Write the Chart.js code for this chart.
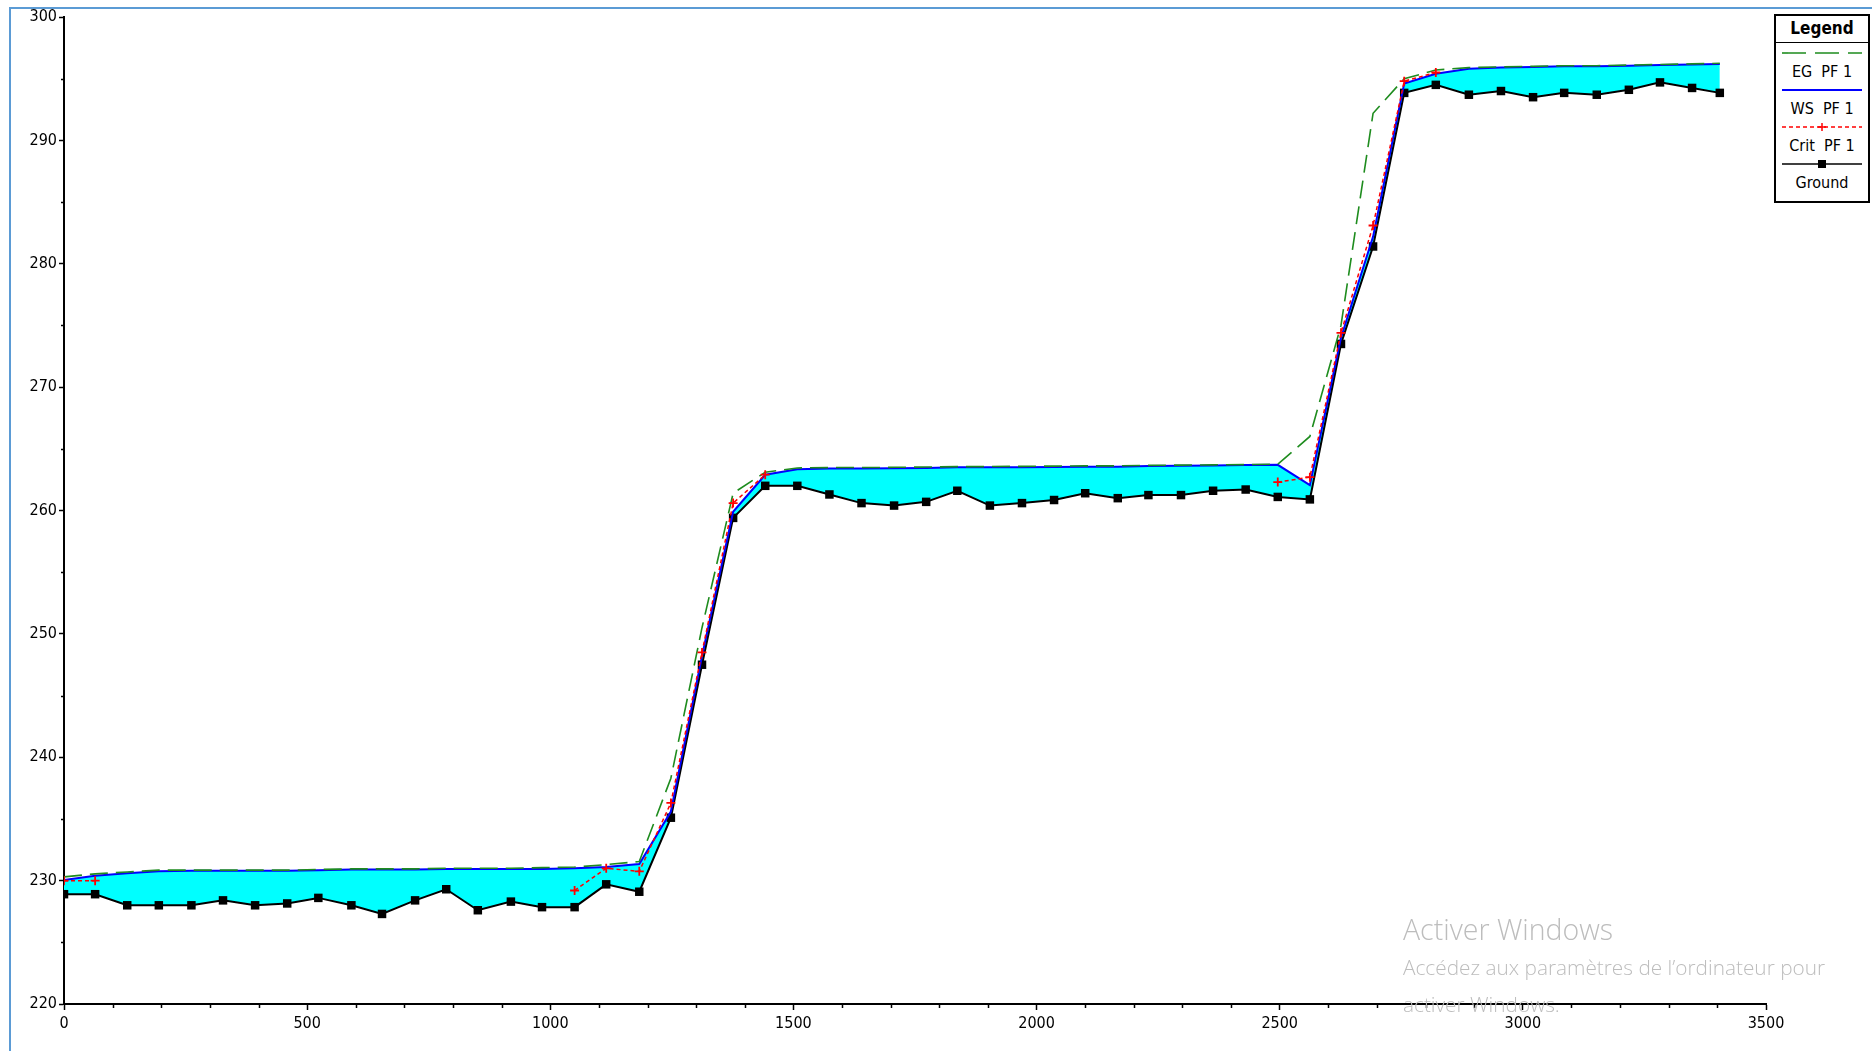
<!DOCTYPE html>
<html>
<head>
<meta charset="utf-8">
<title>Profile</title>
<script src="https://cdn.jsdelivr.net/npm/chart.js@4.4.1/dist/chart.umd.min.js"></script>
<style>
    body { margin: 0; background: #fff; overflow: hidden; }
    #wrap { position: relative; width: 1872px; height: 1051px; }
    #frame { position: absolute; left: 9px; top: 7px; right: 0; bottom: 0;
             border-left: 2px solid #5b9bd5; border-top: 2px solid #5b9bd5; pointer-events: none; }
    #legend { position: absolute; left: 1774px; top: 14px; width: 96px; height: 189px;
              box-sizing: border-box; border: 2px solid #000; background: #fff;
              font-family: "Liberation Sans Narrow", "DejaVu Sans Condensed", "Liberation Sans", sans-serif;
              font-size: 16px; color: #000; text-align: center; }
    #legend .title { font-weight: bold; font-size: 17px; height: 26px; line-height: 24px; border-bottom: 1.5px solid #000; }
    #legend svg { display: block; margin: 3px auto 0 auto; }
    #legend svg + .lbl { margin-top: 0; }
    #legend .lbl { height: 23px; line-height: 23px; }
    #legend .lbl + svg { margin-top: 0; }
    #watermark { position: absolute; left: 1403px; top: 909px; color: #bdbdbd;
                 font-family: "Open Sans", "Noto Sans", sans-serif; font-weight: 300; }
    #watermark .big { font-size: 28.5px; line-height: 40px; }
    #watermark .small { font-size: 20.8px; line-height: 37px; }
</style>
</head>
<body>
<div id="wrap">
    <canvas id="profileChart" width="1872" height="1051"></canvas>
    <div id="frame"></div>
    <div id="legend">
        <div class="title">Legend</div>
        <svg width="80" height="14"><line x1="0" y1="7" x2="80" y2="7" stroke="#1e8c1e" stroke-width="1.6" stroke-dasharray="24,9"/></svg>
        <div class="lbl">EG&nbsp; PF 1</div>
        <svg width="80" height="14"><line x1="0" y1="7" x2="80" y2="7" stroke="#0000ff" stroke-width="1.8"/></svg>
        <div class="lbl">WS&nbsp; PF 1</div>
        <svg width="80" height="14"><line x1="0" y1="7" x2="80" y2="7" stroke="#ff0000" stroke-width="1.4" stroke-dasharray="4,3"/>
            <line x1="40" y1="3" x2="40" y2="11" stroke="#ff0000" stroke-width="1.5"/><line x1="36" y1="7" x2="44" y2="7" stroke="#ff0000" stroke-width="1.5"/></svg>
        <div class="lbl">Crit&nbsp; PF 1</div>
        <svg width="80" height="14"><line x1="0" y1="7" x2="80" y2="7" stroke="#000" stroke-width="1.6"/><rect x="36" y="3" width="8" height="8" fill="#000"/></svg>
        <div class="lbl">Ground</div>
    </div>
    <div id="watermark">
        <div class="big">Activer Windows</div>
        <div class="small">Accédez aux paramètres de l’ordinateur pour</div>
        <div class="small">activer Windows.</div>
    </div>
</div>
<script>
// Main channel distance (m) of each cross section
const stations = [0, 64, 130, 195, 262, 327, 393, 459, 523, 591, 654, 722, 786, 851, 919, 983, 1050, 1115, 1183,
    1248, 1312, 1376,
    1442, 1508, 1574, 1640, 1707, 1773, 1837, 1904, 1970, 2036, 2100, 2167, 2230, 2297, 2363, 2430, 2496, 2562,
    2626, 2692,
    2756, 2821, 2889, 2955, 3021, 3085, 3152, 3218, 3282, 3348, 3405];

const groundElev = [228.9, 228.9, 228.0, 228.0, 228.0, 228.4, 228.0, 228.15, 228.6, 228.0, 227.3, 228.4, 229.3, 227.6, 228.3, 227.85, 227.85, 229.7, 229.1,
    235.1, 247.5, 259.4,
    262.0, 262.0, 261.3, 260.6, 260.4, 260.7, 261.6, 260.4, 260.6, 260.85, 261.4, 261.0, 261.25, 261.25, 261.6, 261.7, 261.1, 260.9,
    273.5, 281.4,
    293.85, 294.5, 293.7, 294.0, 293.5, 293.85, 293.7, 294.1, 294.7, 294.25, 293.85];

const wsElev = [230.05, 230.4, 230.6, 230.75, 230.8, 230.8, 230.8, 230.8, 230.85, 230.9, 230.9, 230.9, 230.95, 230.95, 230.95, 230.95, 231.0, 231.1, 231.35,
    235.6, 248.2, 259.9,
    262.9, 263.35, 263.4, 263.4, 263.42, 263.45, 263.5, 263.5, 263.5, 263.52, 263.55, 263.55, 263.6, 263.62, 263.65, 263.68, 263.7, 262.05,
    274.0, 282.2,
    294.6, 295.4, 295.8, 295.9, 295.95, 296.0, 296.0, 296.05, 296.1, 296.15, 296.2];

const egElev = [230.3, 230.55, 230.7, 230.85, 230.85, 230.85, 230.85, 230.85, 230.9, 230.95, 230.95, 230.95, 231.0, 231.0, 231.0, 231.05, 231.1, 231.3, 231.55,
    238.3, 250.5, 261.4,
    263.1, 263.45, 263.48, 263.48, 263.5, 263.52, 263.56, 263.56, 263.58, 263.6, 263.62, 263.62, 263.66, 263.68, 263.7, 263.72, 263.75, 266.0,
    275.0, 292.2,
    295.0, 295.7, 295.9, 295.95, 296.0, 296.05, 296.05, 296.1, 296.15, 296.2, 296.25];

// Critical depth only computed at some sections
const critElev = [230.0, 230.0, null, null, null, null, null, null, null, null, null, null, null, null, null, null, 229.2, 231.0, 230.75,
    236.3, 248.5, 260.6,
    262.9, null, null, null, null, null, null, null, null, null, null, null, null, null, null, null, 262.3, 262.7,
    274.4, 283.1,
    294.8, 295.5, null, null, null, null, null, null, null, null, null];

const xRange = [0, 3500];
const yRange = [220, 300];

function toPoints(values) {
    return stations.map((s, i) => ({ x: s, y: values[i] }));
}

// short minor ticks between the labelled ones
const minorTicks = {
    id: "minorTicks",
    afterDraw(chart) {
        const ctx = chart.ctx;
        const xs = chart.scales.x, ys = chart.scales.y;
        const area = chart.chartArea;
        ctx.save();
        ctx.strokeStyle = "#000";
        ctx.lineWidth = 1.5;
        ctx.beginPath();
        for (let v = yRange[0] + 5; v < yRange[1]; v += 10) {
            const py = Math.round(ys.getPixelForValue(v)) + 0.5;
            ctx.moveTo(area.left - 3, py);
            ctx.lineTo(area.left, py);
        }
        for (let v = xRange[0] + 100; v < xRange[1]; v += 100) {
            if (v % 500 === 0) continue;
            const px = Math.round(xs.getPixelForValue(v)) + 0.5;
            ctx.moveTo(px, area.bottom);
            ctx.lineTo(px, area.bottom + 4);
        }
        ctx.stroke();
        ctx.restore();
    }
};

document.addEventListener("DOMContentLoaded", function () {
    const tickFont = { family: "'Liberation Sans Narrow', 'DejaVu Sans Condensed', 'Liberation Sans', sans-serif", size: 16 };
    const ctx = document.getElementById("profileChart").getContext("2d");
    new Chart(ctx, {
        type: "line",
        data: {
            datasets: [
                {
                    label: "EG  PF 1",
                    data: toPoints(egElev),
                    borderColor: "#1e8c1e",
                    borderWidth: 1.6,
                    borderDash: [18, 8],
                    pointRadius: 0,
                    fill: false,
                    order: 1
                },
                {
                    label: "WS  PF 1",
                    data: toPoints(wsElev),
                    borderColor: "#0000ff",
                    borderWidth: 2,
                    pointRadius: 0,
                    backgroundColor: "#00ffff",
                    fill: 3,
                    order: 2
                },
                {
                    label: "Crit  PF 1",
                    data: toPoints(critElev),
                    borderColor: "#ff0000",
                    borderWidth: 1.5,
                    borderDash: [4, 3],
                    pointStyle: "cross",
                    pointRadius: 4.5,
                    pointBorderWidth: 1.8,
                    pointBorderColor: "#ff0000",
                    spanGaps: false,
                    fill: false,
                    order: 0
                },
                {
                    label: "Ground",
                    data: toPoints(groundElev),
                    borderColor: "#000",
                    borderWidth: 2,
                    pointStyle: "rect",
                    pointRadius: 6,
                    pointBackgroundColor: "#000",
                    pointBorderWidth: 0,
                    fill: false,
                    order: 3
                }
            ]
        },
        options: {
            responsive: false,
            animation: false,
            devicePixelRatio: 1,
            layout: { padding: { top: 17, right: 106, left: 0, bottom: 0 } },
            plugins: {
                legend: { display: false },
                tooltip: { enabled: false },
                filler: { drawTime: "beforeDatasetsDraw" }
            },
            scales: {
                x: {
                    type: "linear",
                    min: xRange[0],
                    max: xRange[1],
                    afterFit: s => { s.height = 47; },
                    border: { display: true, color: "#000", width: 2 },
                    grid: { drawOnChartArea: false, drawTicks: true, tickLength: 6, tickColor: "#000", tickWidth: 1.5 },
                    ticks: { stepSize: 500, color: "#000", font: tickFont, padding: 4, maxRotation: 0,
                             callback: v => String(v) }
                },
                y: {
                    type: "linear",
                    min: yRange[0],
                    max: yRange[1],
                    afterFit: s => { s.width = 64; },
                    border: { display: true, color: "#000", width: 2 },
                    grid: { drawOnChartArea: false, drawTicks: true, tickLength: 5, tickColor: "#000", tickWidth: 1.5 },
                    ticks: { stepSize: 10, color: "#000", font: tickFont, padding: 2,
                             callback: v => String(v) }
                }
            }
        },
        plugins: [minorTicks]
    });
});
</script>
</body>
</html>
